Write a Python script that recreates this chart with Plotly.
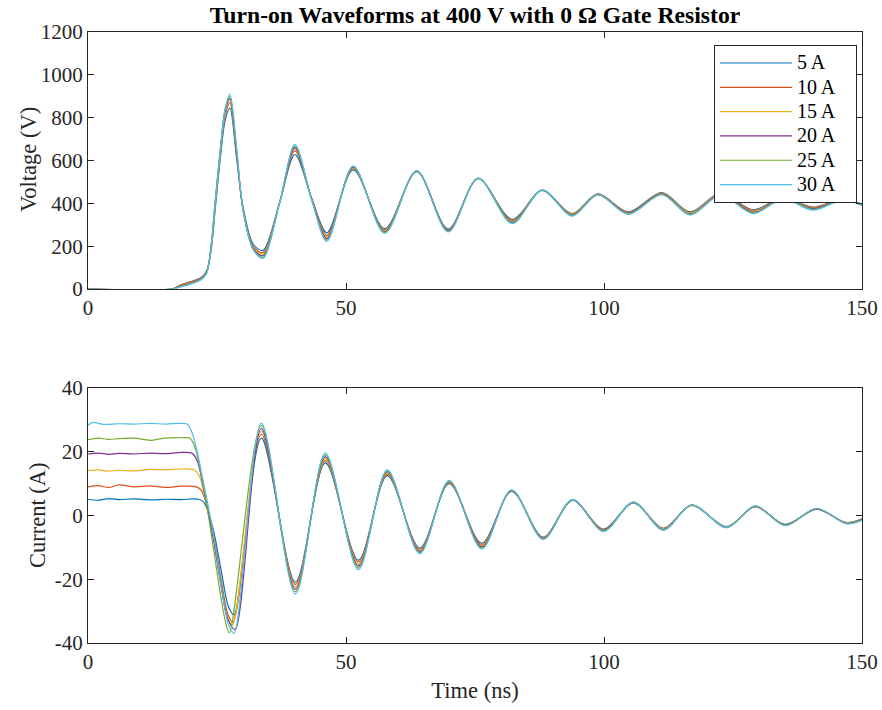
import plotly.graph_objects as go
from plotly.subplots import make_subplots

SERIES = ["5 A", "10 A", "15 A", "20 A", "25 A", "30 A"]
COLORS = ["#0072BD", "#D95319", "#EDB120", "#7E2F8E", "#77AC30", "#4DBEEE"]

# ---------------- Voltage (V) key points, shared time base (ns) ----------------
TV = [0, 16.3, 18, 20, 22, 23, 23.8, 24.6, 25.6, 26.6, 27.5, 28.8, 30.0, 32.0, 33.9,
      37.1, 40.1, 43.4, 46.3, 51.4, 57.5, 63.7, 69.8, 75.6, 82.2, 88.0, 93.8, 98.8,
      104.7, 111.2, 116.7, 122.6, 128.9, 134.7, 140.5, 146.3, 150]
V_5A = [0, 0, 20, 35, 55, 85, 170, 360, 600, 790, 845, 610, 390, 210, 180, 400, 628, 420, 262,
        556, 282, 548, 280, 515, 325, 460, 352, 444, 360, 450, 360, 448, 370, 428, 382, 422, 395]
V_10A = [0, 0, 18, 33, 52, 82, 175, 370, 615, 810, 870, 625, 385, 200, 170, 400, 645, 420, 250,
         563, 276, 550, 276, 516, 320, 461, 350, 443, 358, 448, 357, 446, 366, 426, 380, 420, 394]
V_15A = [0, 0, 15, 30, 50, 80, 180, 380, 625, 825, 885, 635, 380, 195, 163, 400, 655, 415, 242,
         567, 272, 551, 273, 517, 316, 461, 348, 442, 355, 446, 353, 444, 362, 425, 377, 419, 393]
V_20A = [0, 0, 14, 28, 48, 78, 185, 390, 635, 835, 890, 640, 378, 190, 155, 400, 660, 415, 235,
         570, 268, 551, 271, 517, 312, 462, 346, 441, 353, 444, 350, 442, 358, 424, 375, 418, 392]
V_25A = [0, 0, 12, 26, 46, 76, 190, 400, 645, 845, 900, 650, 375, 185, 148, 400, 668, 412, 228,
         572, 264, 552, 269, 518, 309, 462, 344, 441, 351, 442, 348, 440, 355, 423, 372, 417, 391]
V_30A = [0, 0, 10, 24, 44, 74, 180, 385, 630, 840, 910, 660, 380, 185, 143, 398, 675, 412, 222,
         575, 260, 552, 266, 518, 305, 462, 340, 440, 348, 440, 345, 438, 352, 420, 368, 415, 390]
VOLTAGES = [V_5A, V_10A, V_15A, V_20A, V_25A, V_30A]

# ---------------- Current (A): per-series early part + shared late part ----------------
I_T_5A = [0, 2, 4, 6, 9, 12, 15, 18, 21.5, 22.4, 23.3, 24.5, 26.0, 27.2, 28.3]
I_V_5A = [5.1, 4.8, 5.3, 5.0, 5.2, 4.9, 5.1, 5.0, 5.1, 4.2, 1.2, -6, -19, -28.5, -31.2]
I_T_10A = [0, 2, 4, 6, 9, 12, 15, 18, 21.0, 22.0, 23.2, 24.4, 25.9, 27.1, 28.1]
I_V_10A = [9.0, 9.4, 8.8, 9.6, 9.0, 9.3, 8.8, 9.2, 9.0, 7.8, 2.0, -6.5, -21, -31, -33.5]
I_T_15A = [0, 2, 4, 6, 9, 12, 15, 18, 20.6, 21.6, 23.0, 24.3, 25.8, 27.0, 28.0]
I_V_15A = [14.1, 14.3, 13.9, 14.2, 14.0, 14.5, 14.3, 14.6, 14.3, 12.3, 3.0, -7, -22, -32, -34.5]
I_T_20A = [0, 2, 4, 6, 9, 12, 15, 18, 20.2, 21.2, 22.7, 24.2, 25.8, 27.0, 28.5]
I_V_20A = [19.3, 19.6, 19.2, 19.5, 19.3, 19.6, 19.4, 19.8, 19.5, 17.0, 6.0, -6.5, -22, -32, -35.8]
I_T_25A = [0, 2, 4, 6, 9, 12, 15, 18, 19.8, 20.8, 22.5, 24.0, 25.5, 26.6, 27.4]
I_V_25A = [23.8, 24.3, 23.9, 24.1, 24.3, 23.6, 24.3, 24.4, 24.2, 21.0, 8.0, -7, -23, -33, -36.8]
I_T_30A = [0, 1, 3, 6, 9, 12, 15, 18, 19.2, 20.1, 21.1, 22.3, 23.3, 24.5, 26.0, 27.2, 28.3]
I_V_30A = [28.3, 29.2, 28.6, 28.8, 28.7, 28.9, 28.7, 28.9, 28.7, 26.3, 20.5, 11.0, 3.0, -8, -24, -34, -37]

TI_LATE = [33.6, 40.2, 46.0, 52.4, 58.0, 64.3, 70.0, 76.3, 82.1, 88.2, 93.9, 99.9, 105.7,
           111.5, 117.0, 123.8, 129.3, 135.1, 141.2, 147.0, 150]
I_L_5A = [24.3, -20.9, 16.5, -14.0, 12.5, -10.2, 10.0, -8.7, 7.6, -6.8, 4.8, -4.3, 4.0, -4.0,
          3.2, -3.5, 2.8, -2.8, 2.0, -2.2, -1.0]
I_L_10A = [25.5, -21.6, 17.2, -14.6, 13.0, -10.6, 10.2, -9.1, 7.7, -6.9, 4.8, -4.4, 4.0, -4.1,
           3.2, -3.6, 2.8, -2.9, 2.0, -2.3, -1.1]
I_L_15A = [26.5, -22.4, 17.8, -15.2, 13.4, -11.0, 10.4, -9.5, 7.8, -7.0, 4.9, -4.6, 4.1, -4.2,
           3.2, -3.6, 2.9, -3.0, 2.1, -2.4, -1.2]
I_L_20A = [27.3, -23.1, 18.4, -15.8, 13.8, -11.3, 10.6, -9.8, 7.9, -7.2, 4.9, -4.7, 4.1, -4.4,
           3.3, -3.7, 2.9, -3.0, 2.1, -2.5, -1.3]
I_L_25A = [28.2, -23.9, 19.0, -16.4, 14.0, -11.7, 10.8, -10.2, 8.0, -7.4, 5.0, -4.9, 4.2, -4.5,
           3.3, -3.8, 3.0, -3.1, 2.2, -2.5, -1.4]
I_L_30A = [29.0, -24.6, 19.6, -17.0, 14.3, -12.0, 11.0, -10.5, 8.0, -7.5, 5.0, -5.0, 4.2, -4.6,
           3.3, -3.8, 3.0, -3.2, 2.2, -2.6, -1.5]

I_EARLY_T = [I_T_5A, I_T_10A, I_T_15A, I_T_20A, I_T_25A, I_T_30A]
I_EARLY_V = [I_V_5A, I_V_10A, I_V_15A, I_V_20A, I_V_25A, I_V_30A]
I_LATE_V = [I_L_5A, I_L_10A, I_L_15A, I_L_20A, I_L_25A, I_L_30A]

X_TICKS = [0, 50, 100, 150]
V_TICKS = [0, 200, 400, 600, 800, 1000, 1200]
I_TICKS = [-40, -20, 0, 20, 40]
I_TICK_TEXT = ["-40", "-20", "0", "20", "40"]

TITLE = "Turn-on Waveforms at 400 V with 0 \u03a9 Gate Resistor"
Y1_TITLE = "Voltage (V)"
Y2_TITLE = "Current (A)"
X_TITLE = "Time (ns)"
FONT = "Liberation Serif, Times New Roman, serif"
AX = "#262626"

fig = make_subplots(rows=2, cols=1, shared_xaxes=False, vertical_spacing=0.16)

for name, col, v in zip(SERIES, COLORS, VOLTAGES):
    fig.add_trace(go.Scatter(x=TV, y=v, mode="lines",
                             name="<span style='font-size:20px'>" + name + "&nbsp;&nbsp;&nbsp;</span>",
                             line=dict(color=col, width=1.2, shape="spline", smoothing=0.9),
                             legendgroup=name), row=1, col=1)

for name, col, te, ve, vl in zip(SERIES, COLORS, I_EARLY_T, I_EARLY_V, I_LATE_V):
    fig.add_trace(go.Scatter(x=te + TI_LATE, y=ve + vl, mode="lines", name=name,
                             line=dict(color=col, width=1.2, shape="spline", smoothing=0.9),
                             legendgroup=name, showlegend=False), row=2, col=1)

axis_common = dict(showline=True, linecolor=AX, linewidth=1, mirror="ticks",
                   ticks="inside", ticklen=6, tickcolor=AX, tickwidth=1,
                   showgrid=False, zeroline=False, automargin=False,
                   tickfont=dict(family=FONT, size=21, color=AX))

fig.update_layout(
    width=882, height=710,
    margin=dict(l=88, r=20, t=32, b=67),
    paper_bgcolor="white", plot_bgcolor="white",
    font=dict(family=FONT, color=AX),
    title=dict(text="<b>" + TITLE + "</b>", x=0.5, xref="paper", y=1 - 15 / 710, yref="container",
               xanchor="center", yanchor="middle",
               font=dict(family=FONT, size=23.7, color="black")),
    legend=dict(x=0.9935, y=0.979, xanchor="right", yanchor="top",
                bgcolor="white", bordercolor=AX, borderwidth=1,
                font=dict(family=FONT, size=16.4, color="black"),
                tracegroupgap=0, itemwidth=72),
    showlegend=True,
)

fig.update_xaxes(range=[0, 150], tickvals=X_TICKS, **axis_common)
fig.update_yaxes(**axis_common)
fig.update_layout(
    xaxis=dict(domain=[0, 1]),
    yaxis=dict(domain=[0.5794, 1.0], range=[0, 1200], tickvals=V_TICKS),
    xaxis2=dict(domain=[0, 1],
                title=dict(text=X_TITLE, font=dict(family=FONT, size=22.5, color=AX), standoff=9)),
    yaxis2=dict(domain=[0.0, 0.4173], range=[-40, 40], tickvals=I_TICKS, ticktext=I_TICK_TEXT),
)

# y-axis titles placed like MATLAB's
fig.add_annotation(text=Y1_TITLE, textangle=-90, xref="paper", yref="paper",
                   x=(28 - 88) / 774, y=(643 - 160) / 611, xanchor="center", yanchor="middle",
                   showarrow=False, font=dict(family=FONT, size=22.5, color=AX))
fig.add_annotation(text=Y2_TITLE, textangle=-90, xref="paper", yref="paper",
                   x=(37 - 88) / 774, y=(643 - 515) / 611, xanchor="center", yanchor="middle",
                   showarrow=False, font=dict(family=FONT, size=22.5, color=AX))

fig.write_html("out.html", config={"displayModeBar": False},
               post_script="document.body.style.margin='0';")
